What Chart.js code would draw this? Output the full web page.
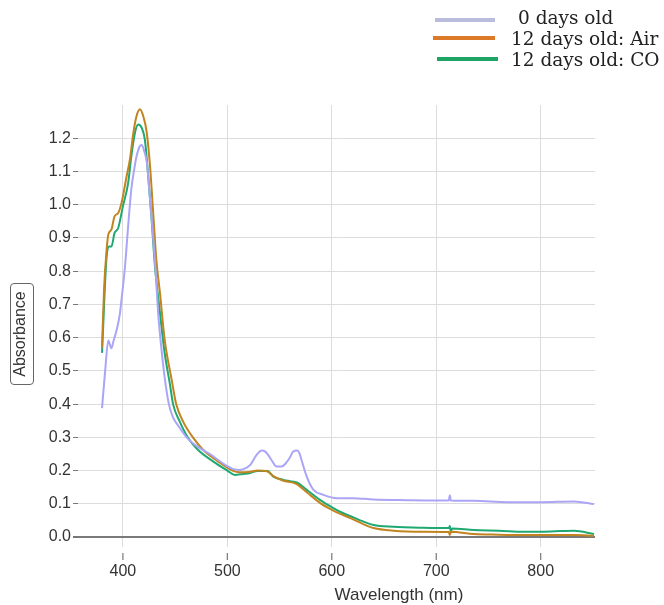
<!DOCTYPE html>
<html>
<head>
<meta charset="utf-8">
<script src="https://cdn.jsdelivr.net/npm/chart.js@4/dist/chart.umd.min.js"></script>
<style>
  body { margin: 0; background: #fff; }
  #wrap { position: relative; width: 664px; height: 605px; }
  .lg-line { position: absolute; height: 4px; }
  .lg-text { position: absolute; font: 18.5px "DejaVu Serif", serif; color: #222; line-height: 22px; white-space: pre; }
  #ytitle {
    position: absolute; left: -29px; top: 322px; width: 100px; height: 22px;
    border: 1px solid #666; border-radius: 4px; text-align: center; line-height: 22px;
    font: 16px "Liberation Sans", Arial, sans-serif; color: #333; transform: rotate(-90deg);
  }
  #xtitle { position: absolute; left: 299px; width: 200px; top: 585px; text-align: center;
    font: 17px "Liberation Sans", Arial, sans-serif; color: #333; }
</style>
</head>
<body>
<div id="wrap">
  <canvas id="chart" width="664" height="605"></canvas>

  <div class="lg-line" style="left:435px;top:18px;width:60px;background:#b9bddb"></div>
  <div class="lg-text" style="left:518px;top:7px">0 days old</div>
  <div class="lg-line" style="left:433px;top:36px;width:62px;background:#dc7a2a"></div>
  <div class="lg-text" style="left:511px;top:28px">12 days old: Air</div>
  <div class="lg-line" style="left:437px;top:57px;width:61px;background:#1ea566"></div>
  <div class="lg-text" style="left:511px;top:49px">12 days old: CO</div>

  <div id="ytitle">Absorbance</div>
  <div id="xtitle">Wavelength (nm)</div>
</div>

<script>
/* DATA */
const xTicks = [400, 500, 600, 700, 800];
const yTicks = [0, 0.1, 0.2, 0.3, 0.4, 0.5, 0.6, 0.7, 0.8, 0.9, 1.0, 1.1, 1.2];

// 0 days old
const freshWl = [380, 383, 386, 389, 391, 394, 397, 399, 402, 405, 408, 411, 413, 416, 418, 420, 423, 426, 428.5, 431, 434, 437, 440, 444, 448, 453, 461, 470, 483, 499, 505, 512, 518, 522, 528, 533, 536, 539, 543, 547, 552, 556, 560, 563, 567, 569, 571, 576, 582.5, 592, 605, 620, 640, 672, 700, 712, 713, 714, 736, 768, 800, 832, 851];
const freshAbs = [0.388, 0.50, 0.591, 0.568, 0.59, 0.623, 0.67, 0.724, 0.814, 0.935, 1.045, 1.11, 1.145, 1.175, 1.18, 1.165, 1.125, 1.015, 0.92, 0.814, 0.664, 0.563, 0.48, 0.40, 0.36, 0.335, 0.30, 0.275, 0.25, 0.215, 0.205, 0.202, 0.208, 0.217, 0.247, 0.26, 0.258, 0.247, 0.228, 0.212, 0.212, 0.222, 0.24, 0.257, 0.26, 0.252, 0.232, 0.182, 0.142, 0.127, 0.117, 0.117, 0.113, 0.111, 0.11, 0.11, 0.126, 0.11, 0.109, 0.105, 0.105, 0.107, 0.099];

// 12 days old: Air
const airWl = [380, 382, 384.4, 386, 389, 392, 395.5, 399, 403.5, 406.7, 410, 413, 416.3, 419.5, 422.7, 426, 429, 432, 435.5, 440, 446.7, 451, 458, 467, 477, 490, 505, 512, 521, 529, 538, 544, 553, 566, 576, 589, 601, 610, 620, 630, 640, 659, 688, 712, 713, 714, 736, 760, 784, 832, 851];
const airAbs = [0.57, 0.75, 0.864, 0.91, 0.925, 0.965, 0.975, 1.01, 1.085, 1.136, 1.216, 1.266, 1.287, 1.266, 1.22, 1.115, 0.975, 0.834, 0.734, 0.593, 0.473, 0.40, 0.345, 0.30, 0.262, 0.23, 0.20, 0.195, 0.196, 0.20, 0.198, 0.183, 0.17, 0.16, 0.135, 0.102, 0.08, 0.067, 0.054, 0.039, 0.027, 0.019, 0.016, 0.015, 0.006, 0.016, 0.009, 0.007, 0.006, 0.006, 0.004];

// 12 days old: CO
const coWl = [380, 384.4, 387, 389, 392, 395.5, 400, 405, 408, 411.5, 414.7, 418, 421, 424, 427.5, 430.7, 435.5, 440, 445, 448, 454, 462, 471, 486.6, 500, 507, 515, 521, 529, 538.5, 544, 553.7, 560, 566.5, 576, 589, 601, 610, 620, 630, 640, 659, 688, 712, 713, 714, 715, 736, 760, 784, 810, 832, 851];
const coAbs = [0.554, 0.844, 0.874, 0.874, 0.915, 0.93, 0.995, 1.065, 1.145, 1.216, 1.241, 1.231, 1.196, 1.095, 0.955, 0.814, 0.674, 0.553, 0.46, 0.40, 0.35, 0.30, 0.265, 0.227, 0.20, 0.187, 0.19, 0.192, 0.199, 0.199, 0.182, 0.172, 0.168, 0.164, 0.142, 0.111, 0.088, 0.073, 0.06, 0.047, 0.036, 0.031, 0.028, 0.027, 0.033, 0.015, 0.026, 0.021, 0.019, 0.016, 0.017, 0.019, 0.009];

/* HELPERS */
const pts = (xs, ys) => xs.map((x, i) => ({ x: x, y: ys[i] }));
const axisFont = { family: "'Liberation Sans', Arial, sans-serif", size: 16 };

const series = (label, xs, ys, color) => ({
  label: label,
  data: pts(xs, ys),
  borderColor: color,
  borderWidth: 2,
  pointRadius: 0,
  fill: false,
  cubicInterpolationMode: "monotone"
});

// x tick marks sit a little below the plot, with a gap
const xTickMarks = {
  id: "xTickMarks",
  afterDraw(chart) {
    const sx = chart.scales.x;
    const c = chart.ctx;
    const b = chart.chartArea.bottom;
    c.save();
    c.strokeStyle = "#777";
    c.lineWidth = 1.2;
    xTicks.forEach(v => {
      const px = sx.getPixelForValue(v);
      c.beginPath();
      c.moveTo(px, b + 6);
      c.lineTo(px, b + 13);
      c.stroke();
    });
    c.restore();
  }
};

/* CHART */
new Chart(document.getElementById("chart"), {
  type: "line",
  data: {
    datasets: [
      series("0 days old", freshWl, freshAbs, "#aaa5f6"),
      series("12 days old: Air", airWl, airAbs, "#c2841f"),
      series("12 days old: CO", coWl, coAbs, "#1fa872")
    ]
  },
  plugins: [xTickMarks],
  options: {
    responsive: false,
    animation: false,
    layout: { padding: { top: 105, right: 69, left: 0, bottom: 0 } },
    plugins: { legend: { display: false }, tooltip: { enabled: false } },
    scales: {
      x: {
        type: "linear",
        min: 357,
        max: 852,
        afterBuildTicks: s => { s.ticks = xTicks.map(v => ({ value: v })); },
        afterFit: s => { s.height = 58; },
        border: { display: false },
        grid: {
          color: "#dcdcdc",
          tickColor: "rgba(0,0,0,0)",
          tickLength: 13
        },
        ticks: { font: axisFont, color: "#333", padding: 2, maxRotation: 0 }
      },
      y: {
        min: -0.03,
        max: 1.3,
        afterBuildTicks: s => { s.ticks = yTicks.map(v => ({ value: v })); },
        afterFit: s => { s.width = 78; },
        border: { display: false },
        grid: {
          color: c => (c.tick && c.tick.value === 0 ? "#7a7a7a" : "#dcdcdc"),
          lineWidth: c => (c.tick && c.tick.value === 0 ? 2 : 1),
          tickColor: "#777",
          tickLength: 5
        },
        ticks: {
          font: axisFont,
          color: "#333",
          padding: 2,
          callback: v => v.toFixed(1)
        }
      }
    }
  }
});
</script>
</body>
</html>
